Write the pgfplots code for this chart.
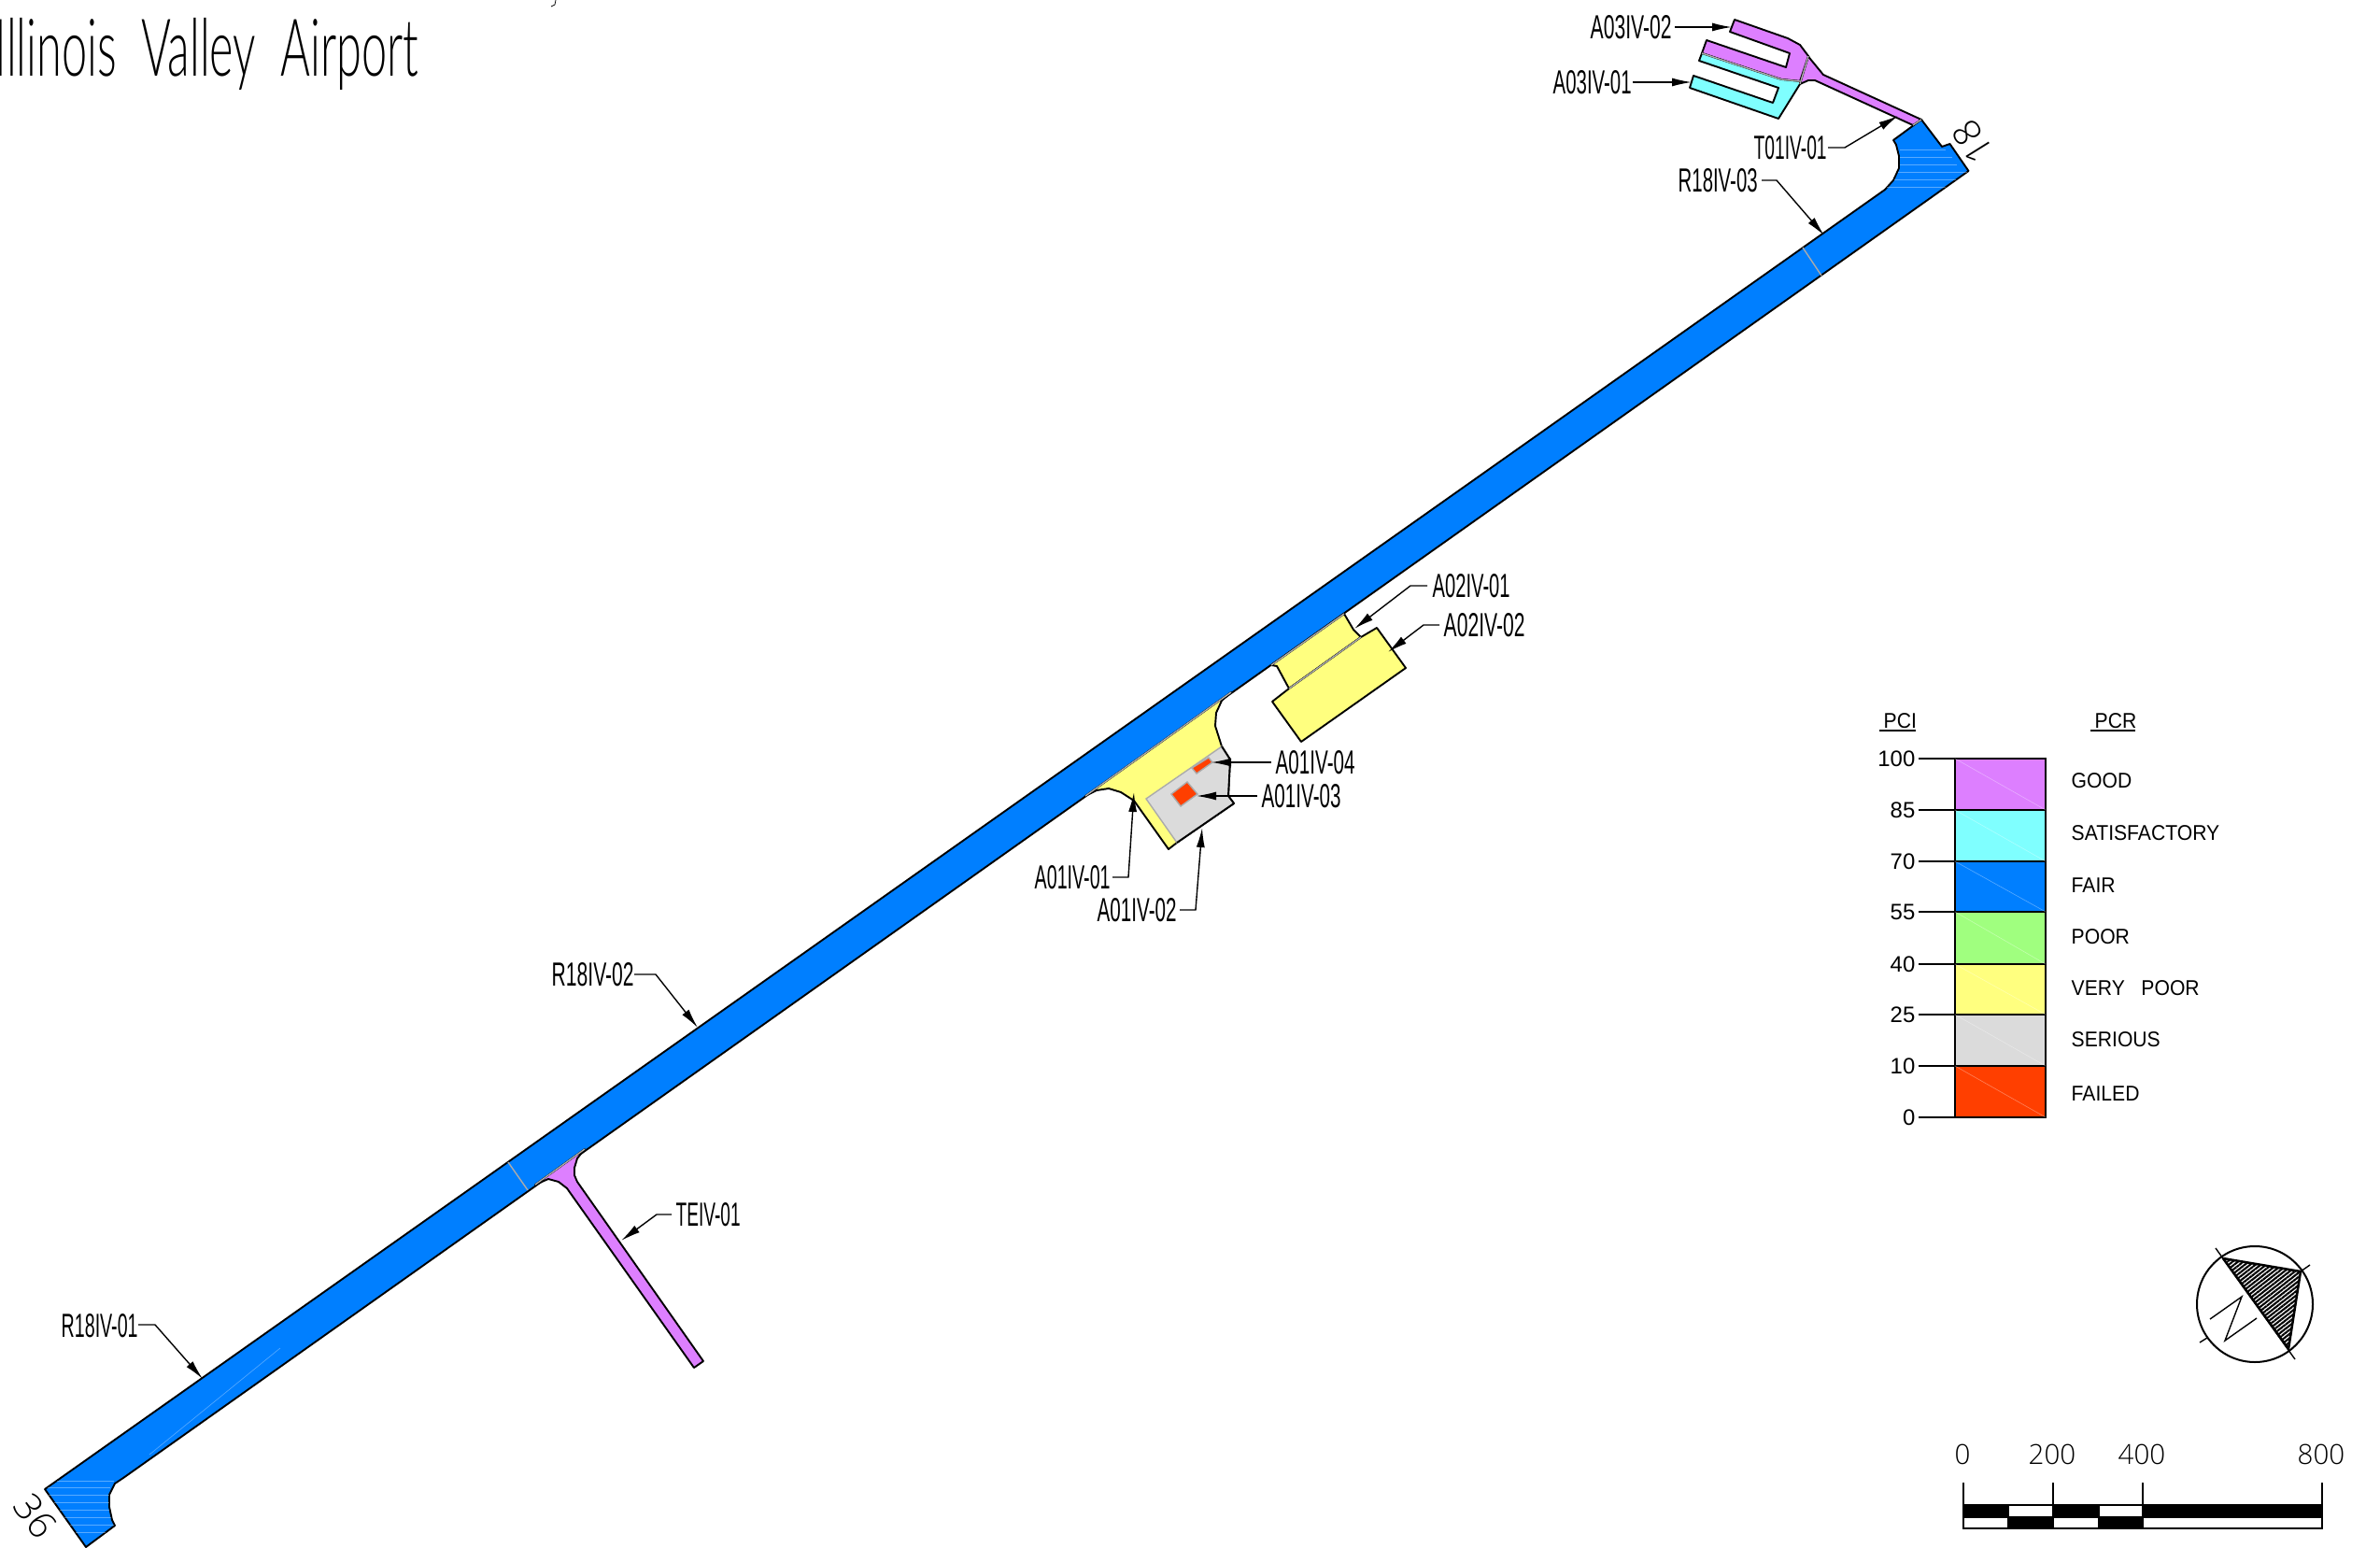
\documentclass[border=0pt]{standalone}
\usepackage{fontspec}
\usepackage{graphicx}
\usepackage{pgfplots}
\pgfplotsset{compat=1.18}
\usetikzlibrary{arrows.meta,patterns.meta}
\setmainfont{Liberation Sans}
\newfontfamily\thinf{Lato Light}
\newfontfamily\numf{Open Sans Light}
\definecolor{cgood}{HTML}{DD7FFF}
\definecolor{csat}{HTML}{7FFFFF}
\definecolor{cfair}{HTML}{007FFF}
\definecolor{cpoor}{HTML}{A0FF7F}
\definecolor{cvpoor}{HTML}{FFFF7F}
\definecolor{cser}{HTML}{DBDBDB}
\definecolor{cfail}{HTML}{FF3F00}
\definecolor{cseam}{HTML}{ABABAB}
% #1 x, #2 y, #3 width in px, #4 text: cap height 25 px
\newcommand\lab[4]{\node[anchor=west,inner sep=0pt] at (axis cs:#1,#2) {\resizebox{#3\dimexpr0.01cm\relax}{0.25cm}{\fontsize{9.9pt}{10pt}\selectfont #4}};}
\newcommand\leg[3]{\node[anchor=west,inner sep=0pt] at (axis cs:#1,#2) {\scalebox{0.925}[1]{\fontsize{6.5pt}{6.6pt}\selectfont #3}};}
\newcommand\num[3]{\node[anchor=east,inner sep=0pt] at (axis cs:#1,#2) {\fontsize{6.8pt}{6.9pt}\selectfont #3};}
\newcommand\sca[3]{\node[anchor=center,inner sep=0pt] at (axis cs:#1,#2) {\numf\fontsize{8.4pt}{8.5pt}\selectfont #3};}
\pgfplotsset{
  area/.style={draw=black,line width=0.019cm,line join=round,fill=#1,no marks},
  seam/.style={draw=cseam,line width=0.014cm,no marks},
  edge/.style={draw=black,line width=0.019cm,line join=round,no marks},
  lead/.style={draw=black,line width=0.014cm,no marks,-{Latex[length=0.21cm,width=0.09cm]}},
  thin line/.style={draw=black,line width=0.014cm,no marks},
  box/.style={draw=black,line width=0.019cm,fill=#1,no marks},
  streak/.style={draw=white,opacity=0.35,line width=0.006cm,no marks},
}
\begin{document}
\begin{tikzpicture}
\clip (0,0) rectangle (25.48,16.57);
\begin{axis}[at={(0,0)},anchor=south west,width=25.48cm,height=16.57cm,scale only axis,
  xmin=0,xmax=2548,ymin=0,ymax=1657,y dir=reverse,hide axis,clip=false]
% runway
\addplot[area=cfair] coordinates {(48,1594)(92,1656)(123,1633)(120,1627)(117,1613)(117,1600)(123,1588)(132,1582)(2107.5,183)(2087.5,154)(2079,157)(2057,128)(2027,150)(2030,155)(2033,167)(2033,180)(2027,193)(2018,203)} --cycle;
\addplot[seam] coordinates {(544,1244)(565,1274)};
\addplot[seam] coordinates {(1930,265)(1950,295)};
% faint streaks in the runway fill
\addplot[streak] coordinates {(61,1585)(122,1585)};
\addplot[streak] coordinates {(51,1592)(118,1592)};
\addplot[streak] coordinates {(52,1600)(117,1600)};
\addplot[streak] coordinates {(58,1608)(117,1608)};
\addplot[streak] coordinates {(64,1616)(117,1616)};
\addplot[streak] coordinates {(69,1624)(119,1624)};
\addplot[streak] coordinates {(75,1632)(122,1632)};
\addplot[streak] coordinates {(81,1640)(113,1640)};
\addplot[streak] coordinates {(160,1557)(300,1443)};
\addplot[streak] coordinates {(2034,160)(2083,160)};
\addplot[streak] coordinates {(2034,168)(2090,168)};
\addplot[streak] coordinates {(2034,176)(2095,176)};
\addplot[streak] coordinates {(2032,184)(2106,184)};
\addplot[streak] coordinates {(2028,192)(2094,192)};
\addplot[streak] coordinates {(2020,200)(2083,200)};
% TE taxiway
\addplot[area=cgood] coordinates {(573,1268)(587,1262)(598,1265)(607,1272)(743,1464)(753,1457)(618,1265)(615,1258)(615,1250)(618,1240)(626,1230)} --cycle;
\addplot[seam] coordinates {(573,1268)(626,1230)};
% A01
\addplot[area=cvpoor] coordinates {(1162,852)(1174,846)(1187,844)(1200,848)(1214,857)(1251,909)(1260,902)(1321,860)(1315,852)(1317,813)(1308,799)(1301,777)(1302,763)(1308,750)(1318,741)} --cycle;
\addplot[seam] coordinates {(1162,852)(1318,741)};
\addplot[draw=cseam,line width=0.014cm,fill=cser,no marks] coordinates {(1227,855)(1308,799)(1317,813)(1315,852)(1321,860)(1260,902)} --cycle;
\addplot[edge] coordinates {(1308,799)(1317,813)(1315,852)(1321,860)(1260,902)};
\addplot[draw=cseam,line width=0.014cm,fill=cfail,no marks] coordinates {(1271,837)(1282,850)(1264,863)(1254,850)} --cycle;
\addplot[draw=cseam,line width=0.014cm,fill=cfail,no marks] coordinates {(1294,811)(1298,816)(1281,828)(1276,822)} --cycle;
% A02
\addplot[area=cvpoor] coordinates {(1361,712)(1367,713)(1380,737)(1457,682)(1449,674)(1439,657)} --cycle;
\addplot[seam] coordinates {(1361,712)(1439,657)};
\addplot[area=cvpoor] coordinates {(1474,672)(1505,715)(1393,794)(1362,751)(1380,737)(1457,682)} --cycle;
\addplot[seam] coordinates {(1380,737)(1457,682)};
% A03 + T01
\addplot[area=cgood] coordinates {(1936,60)(1938,63)(1952,80)(2057,128)(2048,134)(1943,86)(1936,86)(1927,90)} --cycle;
\addplot[seam] coordinates {(2048,134)(2057,128)};
\addplot[area=cgood] coordinates {(1857,21)(1914,41)(1927,48)(1936,60)(1927,87)(1907,85)(1822,57)(1827,43)(1912,72)(1916,57)(1852,34)} --cycle;
\addplot[area=csat] coordinates {(1822,57)(1819,65)(1904,94)(1898,110)(1813,81)(1809,94)(1904,127)(1927,90)(1927,87)(1907,85)} --cycle;
\addplot[seam] coordinates {(1936,60)(1927,90)};
\addplot[seam] coordinates {(1822,57)(1907,85)(1927,87)};
% leaders
\addplot[lead] coordinates {(1793,29)(1854,29)};
\addplot[lead] coordinates {(1748,88)(1811,88)};
\addplot[lead] coordinates {(1957,158)(1975,158)(2032,124)};
\addplot[lead] coordinates {(1886,193)(1902,193)(1953,252)};
\addplot[lead] coordinates {(1528,627)(1510,627)(1450,673)};
\addplot[lead] coordinates {(1541,669)(1524,669)(1486,698)};
\addplot[lead] coordinates {(1361,816)(1297,816)};
\addplot[lead] coordinates {(1346,852)(1281,852)};
\addplot[lead] coordinates {(1191,939)(1208,939)(1214,848)};
\addplot[lead] coordinates {(1263,974)(1280,974)(1287,886)};
\addplot[lead] coordinates {(679,1043)(702,1043)(747,1100)};
\addplot[lead] coordinates {(148,1418)(166,1418)(217,1476)};
\addplot[lead] coordinates {(719,1300)(703,1300)(665,1328)};
% labels
\lab{1702}{29}{87}{A03IV-02}
\lab{1662}{88}{84}{A03IV-01}
\lab{1877}{158}{78}{T01IV-01}
\lab{1796}{193}{85}{R18IV-03}
\lab{1533}{627}{83}{A02IV-01}
\lab{1545}{669}{87}{A02IV-02}
\lab{1365}{816}{85}{A01IV-04}
\lab{1350}{852}{85}{A01IV-03}
\lab{1107}{939}{81}{A01IV-01}
\lab{1174}{974}{85}{A01IV-02}
\lab{590}{1043}{88}{R18IV-02}
\lab{65}{1419}{82}{R18IV-01}
\lab{723}{1300}{69}{TEIV-01}
% runway numbers
\node[rotate=-54,inner sep=0pt] at (axis cs:38,1623) {\numf\fontsize{11.5pt}{11.6pt}\selectfont 36};
\node[rotate=122,inner sep=0pt] at (axis cs:2112,152) {\numf\fontsize{11.5pt}{11.6pt}\selectfont 18};
% title
\node[anchor=base west,inner sep=0pt] at (axis cs:-6,82) {\scalebox{0.57}[1]{\thinf\fontsize{24.3pt}{24.4pt}\selectfont Illinois\ \ Valley\ \ Airport}};
\addplot[draw=black,line width=0.007cm,no marks] coordinates {(595,0)(594,5)(590,7)};
% legend
\addplot[box=cgood] coordinates {(2093,812)(2190,812)(2190,867)(2093,867)} --cycle;
\addplot[box=csat] coordinates {(2093,867)(2190,867)(2190,922)(2093,922)} --cycle;
\addplot[box=cfair] coordinates {(2093,922)(2190,922)(2190,976)(2093,976)} --cycle;
\addplot[box=cpoor] coordinates {(2093,976)(2190,976)(2190,1032)(2093,1032)} --cycle;
\addplot[box=cvpoor] coordinates {(2093,1032)(2190,1032)(2190,1086)(2093,1086)} --cycle;
\addplot[box=cser] coordinates {(2093,1086)(2190,1086)(2190,1141)(2093,1141)} --cycle;
\addplot[box=cfail] coordinates {(2093,1141)(2190,1141)(2190,1196)(2093,1196)} --cycle;
\addplot[streak] coordinates {(2093,812)(2190,867)};
\addplot[streak] coordinates {(2093,867)(2190,922)};
\addplot[streak] coordinates {(2093,922)(2190,976)};
\addplot[streak] coordinates {(2093,976)(2190,1032)};
\addplot[streak] coordinates {(2093,1032)(2190,1086)};
\addplot[streak] coordinates {(2093,1086)(2190,1141)};
\addplot[streak] coordinates {(2093,1141)(2190,1196)};
\addplot[thin line] coordinates {(2054,812)(2093,812)};
\addplot[thin line] coordinates {(2054,867)(2093,867)};
\addplot[thin line] coordinates {(2054,922)(2093,922)};
\addplot[thin line] coordinates {(2054,976)(2093,976)};
\addplot[thin line] coordinates {(2054,1032)(2093,1032)};
\addplot[thin line] coordinates {(2054,1086)(2093,1086)};
\addplot[thin line] coordinates {(2054,1141)(2093,1141)};
\addplot[thin line] coordinates {(2054,1196)(2093,1196)};
\num{2051}{812}{100}
\num{2051}{867}{85}
\num{2051}{922}{70}
\num{2051}{976}{55}
\num{2051}{1032}{40}
\num{2051}{1086}{25}
\num{2051}{1141}{10}
\num{2051}{1196}{0}
\leg{2217}{836}{GOOD}
\leg{2217}{892}{SATISFACTORY}
\leg{2217}{948}{FAIR}
\leg{2217}{1003}{POOR}
\leg{2217}{1058}{VERY\ \ \ POOR}
\leg{2217}{1113}{SERIOUS}
\leg{2217}{1171}{FAILED}
\leg{2016}{772}{PCI}
\leg{2242}{772}{PCR}
\addplot[thin line] coordinates {(2012,782)(2051,782)};
\addplot[thin line] coordinates {(2238,782)(2286,782)};
% north arrow
\draw[black,line width=0.02cm] (axis cs:2414,1396) circle[radius=0.62cm];
\addplot[draw=black,line width=0.025cm,line join=round,no marks,pattern={Lines[angle=38,distance=1pt,line width=0.6pt]}] coordinates {(2380,1347)(2463,1361)(2450,1444)} --cycle;
\addplot[thin line] coordinates {(2372,1336)(2457,1455)};
\addplot[thin line] coordinates {(2355,1437)(2363,1432)};
\addplot[thin line] coordinates {(2463,1361)(2473,1354)};
\addplot[thin line] coordinates {(2366,1412)(2400,1388)(2382,1435)(2416,1411)};
% scale bar
\addplot[box=black] coordinates {(2102,1611)(2150,1611)(2150,1624)(2102,1624)} --cycle;
\addplot[box=white] coordinates {(2150,1611)(2198,1611)(2198,1624)(2150,1624)} --cycle;
\addplot[box=black] coordinates {(2198,1611)(2247,1611)(2247,1624)(2198,1624)} --cycle;
\addplot[box=white] coordinates {(2247,1611)(2294,1611)(2294,1624)(2247,1624)} --cycle;
\addplot[box=black] coordinates {(2294,1611)(2486,1611)(2486,1624)(2294,1624)} --cycle;
\addplot[box=white] coordinates {(2102,1624)(2150,1624)(2150,1636)(2102,1636)} --cycle;
\addplot[box=black] coordinates {(2150,1624)(2198,1624)(2198,1636)(2150,1636)} --cycle;
\addplot[box=white] coordinates {(2198,1624)(2247,1624)(2247,1636)(2198,1636)} --cycle;
\addplot[box=black] coordinates {(2247,1624)(2294,1624)(2294,1636)(2247,1636)} --cycle;
\addplot[box=white] coordinates {(2294,1624)(2486,1624)(2486,1636)(2294,1636)} --cycle;
\addplot[thin line] coordinates {(2102,1587)(2102,1611)};
\addplot[thin line] coordinates {(2198,1587)(2198,1611)};
\addplot[thin line] coordinates {(2294,1587)(2294,1611)};
\addplot[thin line] coordinates {(2486,1587)(2486,1611)};
\sca{2101}{1557}{0}
\sca{2197}{1557}{200}
\sca{2293}{1557}{400}
\sca{2485}{1557}{800}
\end{axis}
\end{tikzpicture}
\end{document}
